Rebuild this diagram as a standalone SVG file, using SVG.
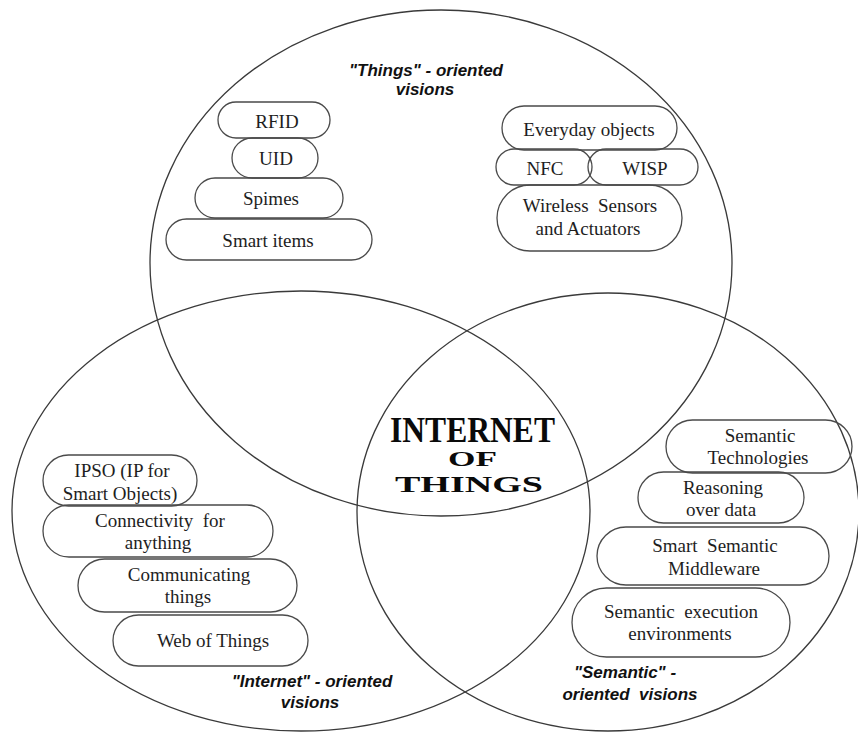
<svg xmlns="http://www.w3.org/2000/svg" width="858" height="733" viewBox="0 0 858 733">
  <style>
    .ring { fill: none; stroke: #3a3a3a; stroke-width: 1.3; }
    .pill { fill: none; stroke: #4a4a4a; stroke-width: 1.3; }
    .lbl { font-family: "Liberation Serif", "Times New Roman", serif; font-size: 19px; fill: #1e1e1e; text-anchor: middle; }
    .head { font-family: "Liberation Sans", Arial, sans-serif; font-size: 17px; font-weight: bold; font-style: italic; fill: #111; text-anchor: middle; }
    .core { font-family: "Liberation Serif", "Times New Roman", serif; font-weight: bold; fill: #0a0a0a; }
  </style>
  <rect width="858" height="733" fill="#ffffff"/>

  <!-- three overlapping vision sets -->
  <g id="sets">
    <ellipse class="ring" cx="441" cy="263" rx="291" ry="253"/>
    <ellipse class="ring" cx="301" cy="511" rx="289" ry="220"/>
    <ellipse class="ring" cx="608" cy="512" rx="251" ry="219"/>
  </g>

  <g id="connectors"/>

  <!-- set headings -->
  <g id="heading-things">
    <text class="head" x="426" y="76">"Things" - oriented</text>
    <text class="head" x="425" y="95">visions</text>
  </g>
  <g id="heading-internet">
    <text class="head" x="312" y="687">"Internet" - oriented</text>
    <text class="head" x="310" y="708">visions</text>
  </g>
  <g id="heading-semantic">
    <text class="head" x="625" y="678">"Semantic" -</text>
    <text class="head" x="630" y="700" xml:space="preserve">oriented  visions</text>
  </g>

  <!-- centre title -->
  <g id="iot-core">
    <text class="core" x="390" y="442" font-size="36" textLength="165" lengthAdjust="spacingAndGlyphs">INTERNET</text>
    <text class="core" x="448" y="466" font-size="20" textLength="49" lengthAdjust="spacingAndGlyphs">OF</text>
    <text class="core" x="395" y="492" font-size="24" textLength="148" lengthAdjust="spacingAndGlyphs">THINGS</text>
  </g>

  <!-- things-oriented items, left stack -->
  <g id="rfid">
    <rect class="pill" x="218" y="102" width="112" height="36" rx="18"/>
    <text class="lbl" x="277" y="128">RFID</text>
  </g>
  <g id="uid">
    <rect class="pill" x="232" y="138" width="86" height="40" rx="20"/>
    <text class="lbl" x="276" y="165">UID</text>
  </g>
  <g id="spimes">
    <rect class="pill" x="195" y="178" width="148" height="40" rx="20"/>
    <text class="lbl" x="271" y="205">Spimes</text>
  </g>
  <g id="smart-items">
    <rect class="pill" x="166" y="219" width="206" height="41" rx="20.5"/>
    <text class="lbl" x="268" y="247">Smart items</text>
  </g>

  <!-- things-oriented items, right stack -->
  <g id="everyday-objects">
    <rect class="pill" x="502" y="106" width="175" height="44" rx="22"/>
    <text class="lbl" x="589" y="136">Everyday objects</text>
  </g>
  <g id="nfc">
    <rect class="pill" x="496" y="149" width="96" height="36" rx="18"/>
    <text class="lbl" x="545" y="175">NFC</text>
  </g>
  <g id="wisp">
    <rect class="pill" x="588" y="149" width="110" height="36" rx="18"/>
    <text class="lbl" x="645" y="175">WISP</text>
  </g>
  <g id="wireless-sensors">
    <rect class="pill" x="497" y="185" width="185" height="66" rx="33"/>
    <text class="lbl" x="590" y="212" xml:space="preserve">Wireless  Sensors</text>
    <text class="lbl" x="588" y="235">and Actuators</text>
  </g>

  <!-- internet-oriented items -->
  <g id="ipso">
    <rect class="pill" x="43" y="455" width="154" height="51" rx="25.5"/>
    <text class="lbl" x="122" y="477">IPSO (IP for</text>
    <text class="lbl" x="120" y="500">Smart Objects)</text>
  </g>
  <g id="connectivity">
    <rect class="pill" x="43" y="505" width="230" height="52" rx="26"/>
    <text class="lbl" x="160" y="527" xml:space="preserve">Connectivity  for</text>
    <text class="lbl" x="158" y="549">anything</text>
  </g>
  <g id="communicating-things">
    <rect class="pill" x="78" y="559" width="219" height="53" rx="26.5"/>
    <text class="lbl" x="189" y="581">Communicating</text>
    <text class="lbl" x="188" y="603">things</text>
  </g>
  <g id="web-of-things">
    <rect class="pill" x="113" y="615" width="195" height="51" rx="25.5"/>
    <text class="lbl" x="213" y="647">Web of Things</text>
  </g>

  <!-- semantic-oriented items -->
  <g id="semantic-technologies">
    <rect class="pill" x="666" y="420" width="186" height="53" rx="26.5"/>
    <text class="lbl" x="760" y="442">Semantic</text>
    <text class="lbl" x="758" y="464">Technologies</text>
  </g>
  <g id="reasoning">
    <rect class="pill" x="638" y="472" width="166" height="51" rx="25.5"/>
    <text class="lbl" x="723" y="494">Reasoning</text>
    <text class="lbl" x="721" y="516">over data</text>
  </g>
  <g id="smart-semantic-middleware">
    <rect class="pill" x="597" y="527" width="232" height="58" rx="29"/>
    <text class="lbl" x="715" y="552" xml:space="preserve">Smart  Semantic</text>
    <text class="lbl" x="714" y="575">Middleware</text>
  </g>
  <g id="semantic-execution">
    <rect class="pill" x="572" y="588" width="218" height="69" rx="34.5"/>
    <text class="lbl" x="681" y="618" xml:space="preserve">Semantic  execution</text>
    <text class="lbl" x="680" y="640">environments</text>
  </g>
</svg>
